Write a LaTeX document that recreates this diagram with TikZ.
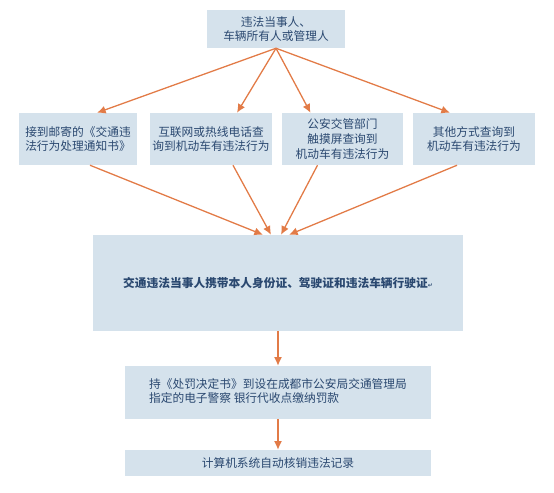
\documentclass[tikz,border=0pt]{standalone}
\usepackage{fontspec}
\newfontfamily\cjk{Noto Sans CJK SC}
\newfontfamily\symfont{DejaVu Sans}
\usetikzlibrary{arrows.meta,calc}
\definecolor{BoxClr}{HTML}{D5E2EC}
\definecolor{TextClr}{HTML}{2A4870}
\definecolor{ArrowClr}{HTML}{E27B47}

\begin{document}
\begin{tikzpicture}[x=0.03cm,y=-0.03cm,
  box/.style={fill=BoxClr,text=TextClr,font=\cjk\fontsize{10}{12.5}\selectfont,
    inner sep=0pt,align=center},
  flow/.style={-{Latex[length=2.6mm,width=2.4mm]},draw=ArrowClr,line width=1.1pt}]
\useasboundingbox (0,0) rectangle (554,492);

% source of the violation
\node[box,minimum width=4.14cm,minimum height=1.14cm] (party) at (276,29)
  {违法当事人、\\车辆所有人或管理人};

% four ways to find out
\node[box,minimum width=3.54cm,minimum height=1.56cm] (mail) at (78,139)
  {接到邮寄的《交通违\\法行为处理通知书》};
\node[box,minimum width=3.66cm,minimum height=1.56cm] (web) at (211,139)
  {互联网或热线电话查\\询到机动车有违法行为};
\node[box,minimum width=3.63cm,minimum height=1.56cm] (touch) at (342.5,139)
  {公安交管部门\\触摸屏查询到\\机动车有违法行为};
\node[box,minimum width=3.66cm,minimum height=1.56cm] (other) at (474,139)
  {其他方式查询到\\机动车有违法行为};

% handling steps
\node[box,minimum width=11.1cm,minimum height=2.88cm,font=\cjk\bfseries\fontsize{10}{12.5}\selectfont] (papers) at (278,283)
  {交通违法当事人携带本人身份证、驾驶证和违法车辆行驶证{\symfont\tiny ↵}};
\node[box,minimum width=9.18cm,minimum height=1.59cm] (pay) at (278,392.5)
  {\begin{tabular}{@{}l@{}}持《处罚决定书》到设在成都市公安局交通管理局\\指定的电子警察 银行代收点缴纳罚款\end{tabular}};
\node[box,minimum width=9.18cm,minimum height=0.78cm] (done) at (278,463)
  {计算机系统自动核销违法记录};

\draw[flow] (party.south) -- ($(mail.north)+(19,0)$);
\draw[flow] (party.south) -- ($(web.north)+(26,0)$);
\draw[flow] (party.south) -- ($(touch.north)+(-32,0)$);
\draw[flow] (party.south) -- ($(other.north)+(-24,0)$);

\draw[flow] ($(mail.south)+(12,0)$) -- ($(papers.north)+(-15,0)$);
\draw[flow] ($(web.south)+(22,0)$) -- ($(papers.north)+(-7,0)$);
\draw[flow] ($(touch.south)+(-25,0)$) -- ($(papers.north)+(3,0)$);
\draw[flow] ($(other.south)+(-17,0)$) -- ($(papers.north)+(11,0)$);

\draw[flow] (papers) -- (pay);
\draw[flow] (pay) -- (done);

\end{tikzpicture}
\end{document}
